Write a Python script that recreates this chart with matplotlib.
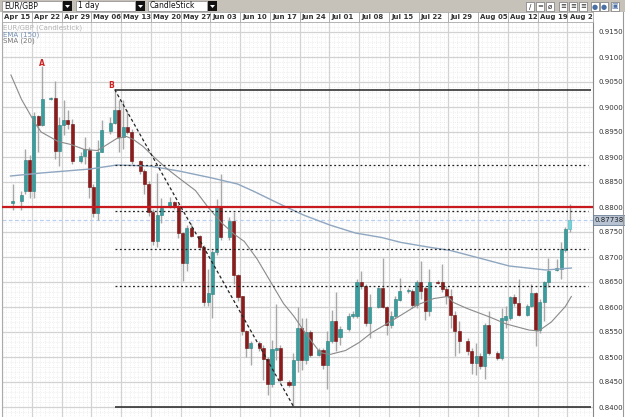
import matplotlib
matplotlib.use('Agg')
import matplotlib.pyplot as plt
from matplotlib.patches import Rectangle, Polygon
import numpy as np

# week labels (index -1 = Apr 15, 0 = Apr 22, ...)
week_labels = ['Apr 15', 'Apr 22', 'Apr 29', 'May 06', 'May 13', 'May 20', 'May 27',
               'Jun 03', 'Jun 10', 'Jun 17', 'Jun 24', 'Jul 01', 'Jul 08', 'Jul 15',
               'Jul 22', 'Jul 29', 'Aug 05', 'Aug 12', 'Aug 19', 'Aug 26']

# bar slots: 7 per week, 4th slot empty
slots = [7 * w + j + 0.5 for w in range(-1, 19) for j in (0, 1, 2, 4, 5, 6)]
days = slots[2:2 + 113]

opens = [0.8809, 0.8813, 0.8833, 0.8894,
         0.8833, 0.8982, 0.8964, 0.9017, 0.9019, 0.8913,
         0.8964, 0.8974, 0.8966, 0.8892, 0.8903, 0.8915,
         0.8841, 0.8788, 0.8911, 0.8952, 0.8968, 0.8995,
         0.8941, 0.8960, 0.8950, 0.8892, 0.8872, 0.8846,
         0.8790, 0.8733, 0.8784, 0.8801, 0.8809, 0.8801,
         0.8748, 0.8688, 0.8758, 0.8743, 0.8719, 0.8611,
         0.8627, 0.8711, 0.8803, 0.8741, 0.8772, 0.8664,
         0.8621, 0.8552, 0.8519, 0.8529, 0.8519, 0.8496,
         0.8447, 0.8515, 0.8519, 0.8451, 0.8445, 0.8494,
         0.8558, 0.8494, 0.8551, 0.8505, 0.8515, 0.8484,
         0.8533, 0.8572, 0.8541, 0.8556, 0.8582, 0.8582,
         0.8650, 0.8643, 0.8568, 0.8600, 0.8637, 0.8600,
         0.8564, 0.8582, 0.8615, 0.8633, 0.8633, 0.8605,
         0.8650, 0.8637, 0.8592, 0.8650, 0.8650, 0.8637,
         0.8623, 0.8584, 0.8552, 0.8533, 0.8513, 0.8488,
         0.8503, 0.8482, 0.8564, 0.8509, 0.8498, 0.8574,
         0.8578, 0.8621, 0.8609, 0.8584, 0.8603, 0.8629,
         0.8554, 0.8611, 0.8650, 0.8674, 0.8676, 0.8715,
         0.8756]
highs = [0.8846, 0.8833, 0.8917, 0.8905,
         0.8990, 0.8984, 0.9082, 0.9021, 0.9052, 0.8980,
         0.9015, 0.8995, 0.8976, 0.8911, 0.8941, 0.8921,
         0.8846, 0.8935, 0.8974, 0.8980, 0.9035, 0.9015,
         0.9015, 0.8995, 0.8956, 0.8895, 0.8876, 0.8852,
         0.8797, 0.8868, 0.8819, 0.8821, 0.8813, 0.8807,
         0.8750, 0.8764, 0.8768, 0.8745, 0.8725, 0.8676,
         0.8715, 0.8817, 0.8866, 0.8780, 0.8790, 0.8666,
         0.8623, 0.8554, 0.8533, 0.8533, 0.8525, 0.8500,
         0.8535, 0.8607, 0.8525, 0.8454, 0.8509, 0.8601,
         0.8578, 0.8578, 0.8554, 0.8519, 0.8519, 0.8552,
         0.8594, 0.8631, 0.8562, 0.8588, 0.8592, 0.8656,
         0.8672, 0.8647, 0.8627, 0.8641, 0.8699, 0.8603,
         0.8592, 0.8623, 0.8658, 0.8639, 0.8637, 0.8654,
         0.8692, 0.8643, 0.8676, 0.8654, 0.8686, 0.8643,
         0.8637, 0.8592, 0.8572, 0.8539, 0.8519, 0.8529,
         0.8509, 0.8568, 0.8592, 0.8513, 0.8598, 0.8603,
         0.8623, 0.8627, 0.8656, 0.8607, 0.8647, 0.8631,
         0.8617, 0.8652, 0.8699, 0.8696, 0.8731, 0.8760,
         0.8807]
lows = [0.8794, 0.8794, 0.8827, 0.8819,
        0.8819, 0.8911, 0.8962, 0.9015, 0.8897, 0.8882,
        0.8944, 0.8956, 0.8886, 0.8888, 0.8886, 0.8819,
        0.8780, 0.8774, 0.8911, 0.8946, 0.8966, 0.8911,
        0.8917, 0.8946, 0.8886, 0.8866, 0.8827, 0.8782,
        0.8725, 0.8721, 0.8768, 0.8799, 0.8797, 0.8739,
        0.8652, 0.8672, 0.8741, 0.8715, 0.8603, 0.8603,
        0.8578, 0.8705, 0.8735, 0.8735, 0.8647, 0.8613,
        0.8545, 0.8500, 0.8484, 0.8513, 0.8454, 0.8425,
        0.8441, 0.8494, 0.8451, 0.8441, 0.8402, 0.8470,
        0.8474, 0.8486, 0.8500, 0.8503, 0.8476, 0.8437,
        0.8529, 0.8513, 0.8525, 0.8552, 0.8578, 0.8578,
        0.8637, 0.8562, 0.8539, 0.8598, 0.8598, 0.8545,
        0.8558, 0.8578, 0.8613, 0.8629, 0.8598, 0.8598,
        0.8617, 0.8574, 0.8582, 0.8647, 0.8631, 0.8607,
        0.8558, 0.8503, 0.8509, 0.8505, 0.8466, 0.8464,
        0.8476, 0.8456, 0.8505, 0.8494, 0.8494, 0.8558,
        0.8574, 0.8603, 0.8582, 0.8582, 0.8601, 0.8523,
        0.8549, 0.8572, 0.8641, 0.8672, 0.8656, 0.8711,
        0.8750]
closes = [0.8813, 0.8825, 0.8894, 0.8833,
          0.8982, 0.8964, 0.9017, 0.9019, 0.8913, 0.8964,
          0.8974, 0.8966, 0.8892, 0.8903, 0.8917, 0.8841,
          0.8788, 0.8911, 0.8954, 0.8968, 0.8995, 0.8941,
          0.8960, 0.8950, 0.8892, 0.8872, 0.8846, 0.8790,
          0.8733, 0.8784, 0.8799, 0.8809, 0.8801, 0.8748,
          0.8688, 0.8758, 0.8743, 0.8721, 0.8611, 0.8627,
          0.8711, 0.8803, 0.8741, 0.8772, 0.8664, 0.8621,
          0.8552, 0.8519, 0.8529, 0.8519, 0.8496, 0.8447,
          0.8515, 0.8519, 0.8454, 0.8445, 0.8494, 0.8558,
          0.8494, 0.8551, 0.8505, 0.8515, 0.8484, 0.8533,
          0.8572, 0.8533, 0.8556, 0.8582, 0.8586, 0.8649,
          0.8643, 0.8568, 0.8601, 0.8637, 0.8600, 0.8564,
          0.8582, 0.8615, 0.8633, 0.8635, 0.8605, 0.8650,
          0.8633, 0.8592, 0.8650, 0.8649, 0.8637, 0.8623,
          0.8584, 0.8552, 0.8533, 0.8513, 0.8488, 0.8503,
          0.8482, 0.8564, 0.8509, 0.8498, 0.8578, 0.8582,
          0.8621, 0.8609, 0.8584, 0.8603, 0.8629, 0.8554,
          0.8611, 0.8650, 0.8672, 0.8678, 0.8715, 0.8756,
          0.87738]

# indicator lines
ema_x = [-5.0, 2.2, 13.8, 20.0, 27.6, 34.6, 42.4, 48.4, 52.3, 57.6, 63.9, 70.1,
         76.1, 82.3, 86.9, 93.9, 98.5, 106.1, 112.3, 120.9, 126.9]
ema_y = [0.8862, 0.8868, 0.8876, 0.8884, 0.8882, 0.8872, 0.8858, 0.8846, 0.8831,
         0.8809, 0.8784, 0.8764, 0.8748, 0.8739, 0.8729, 0.8719, 0.8713, 0.8696,
         0.8682, 0.8674, 0.8678]
sma_x = [-4.9, -2.4, 0.9, 2.2, 6.2, 9.2, 12.4, 15.4, 17.0, 20.0, 22.3, 23.9, 26.2,
         28.6, 31.6, 34.6, 38.5, 41.5, 44.7, 47.7, 50.0, 53.0, 56.2, 59.2, 61.6,
         64.6, 67.8, 70.1, 73.8, 77.0, 80.0, 83.0, 86.9, 90.9, 94.6, 97.8, 99.2,
         102.4, 107.7, 111.6, 116.9, 119.2, 122.2, 125.5, 126.9]
sma_y = [0.9064, 0.9015, 0.8966, 0.8950, 0.8931, 0.8925, 0.8915, 0.8913, 0.8921,
         0.8937, 0.8941, 0.8935, 0.8921, 0.8901, 0.8878, 0.8858, 0.8833, 0.8799,
         0.8768, 0.8745, 0.8731, 0.8696, 0.8650, 0.8607, 0.8582, 0.8545, 0.8509,
         0.8505, 0.8513, 0.8529, 0.8549, 0.8564, 0.8584, 0.8605, 0.8617, 0.8621,
         0.8609, 0.8597, 0.8580, 0.8566, 0.8554, 0.8552, 0.8570, 0.8601, 0.8621]

# drawn levels
level_b = 0.9035
level_low = 0.8400
level_red = 0.8800
dotted_levels = [0.8885, 0.8792, 0.8717, 0.8642]
last_price = 0.87738
trend_x = [19.5, 61.5]
trend_y = [0.9035, 0.8402]

W, H = 625, 417
fig = plt.figure(figsize=(W / 100, H / 100), dpi=100)
fig.patch.set_facecolor('white')

ax = fig.add_axes([2 / W, 0, 591 / W, 395 / H])
ax.set_xlim(-4.92, 131.48)
ax.set_ylim(0.8388, 0.9162)
ax.set_facecolor('white')

ax.set_xticks(np.arange(-7, 133, 7))
ax.set_xticks(np.arange(-7, 133, 1), minor=True)
ax.set_yticks(np.arange(0.840, 0.9151, 0.005))
ax.set_yticks(np.arange(0.838, 0.917, 0.001), minor=True)
ax.grid(which='minor', color='#e4e4e4', lw=0.5, ls=':')
ax.grid(which='major', color='#d2d2d2', lw=0.9)
ax.set_axisbelow(True)
ax.tick_params(axis='x', which='both', length=0, labelbottom=False)
ax.yaxis.tick_right()
ax.tick_params(axis='y', which='both', length=0, pad=4, labelsize=5, labelcolor='#333333')
ax.set_yticklabels(['%.4f' % v for v in np.arange(0.840, 0.9151, 0.005)])
for s in ['top', 'bottom']:
    ax.spines[s].set_visible(False)
ax.spines['left'].set_color('#aaaaaa')
ax.spines['right'].set_color('#888888')

# candles
d = np.array(days)
o = np.array(opens); h = np.array(highs); l = np.array(lows); c = np.array(closes)
up = c >= o
face = np.where(up, '#3a9e9e', '#8e1b1b').astype(object)
edge = np.where(up, '#2c7f7f', '#6e1010').astype(object)
face[-1] = '#72d4dc'; edge[-1] = '#52b4bc'
ax.vlines(d, l, h, color='#a8a8a8', lw=1, zorder=3)
ax.bar(d, np.maximum(np.abs(c - o), 0.00012), bottom=np.minimum(o, c), width=0.72,
       color=list(face), edgecolor=list(edge), linewidth=0.4, zorder=4)

ax.plot(ema_x, ema_y, color='#8ea6c0', lw=1, zorder=5)
ax.plot(sma_x, sma_y, color='#8a8a8a', lw=0.8, zorder=5)

# annotations drawn on the chart
ax.axhline(level_red, color='#c8191e', lw=1.6, zorder=6)
ax.axhline(last_price, color='#b9cff0', lw=0.9, ls=(0, (3, 2)), zorder=2)
ax.hlines([level_b, level_low], 19.5, 131.5, color='#222222', lw=1.1, zorder=6)
ax.hlines(dotted_levels, 19.5, 130.8, color='#222222', lw=0.9, ls=(0, (1.5, 2)), zorder=6)
ax.plot(trend_x, trend_y, color='#222222', lw=0.9, ls=(0, (2.5, 2)), zorder=6)
ax.text(2.5, 0.9088, 'A', color='#cc2222', fontsize=5.5, fontweight='bold', ha='center', va='center')
ax.text(18.6, 0.9044, 'B', color='#cc2222', fontsize=5.5, fontweight='bold', ha='center', va='center')

ax.text(0.002, 0.993, 'EUR/GBP (Candlestick)', transform=ax.transAxes, fontsize=5, color='#b4b4b4', va='top')
ax.text(0.002, 0.977, 'EMA (150)', transform=ax.transAxes, fontsize=5, color='#7390b5', va='top')
ax.text(0.002, 0.961, 'SMA (20)', transform=ax.transAxes, fontsize=5, color='#777777', va='top')

ax.text(1.003, last_price, '%.5f' % last_price, transform=ax.get_yaxis_transform(),
        fontsize=5, color='#222222', va='center', ha='left',
        bbox=dict(boxstyle='square,pad=0.25', fc='#b7c3d3', ec='#6d7f96', lw=0.6))

# date row
axd = fig.add_axes([2 / W, 395 / H, 591 / W, 10 / H])
axd.set_xlim(ax.get_xlim())
axd.set_ylim(0, 1)
axd.set_xticks([]); axd.set_yticks([])
for s in axd.spines.values():
    s.set_color('#aaaaaa'); s.set_lw(0.6)
for k, lab in enumerate(week_labels):
    x = 7 * (k - 1)
    axd.axvline(x, color='#b0b0b0', lw=0.7)
    axd.text(x + 0.5, 0.45, lab, fontsize=5, fontweight='bold', color='#333333',
             va='center', ha='left', clip_on=True)

# header bar
fig.add_artist(Rectangle((0, 1 - 12 / H), 1, 12 / H, transform=fig.transFigure,
                         fc='#c6c2ba', ec='none'))
for (x0, x1, txt) in [(2, 62, 'EUR/GBP'), (76, 135, '1 day'), (148, 207, 'CandleStick')]:
    fig.add_artist(Rectangle((x0 / W, 1 - 11 / H), (x1 - x0) / W, 10 / H, transform=fig.transFigure,
                             fc='white', ec='#888888', lw=0.5))
    fig.add_artist(Rectangle(((x1 + 1) / W, 1 - 11 / H), 9 / W, 10 / H, transform=fig.transFigure,
                             fc='#111111', ec='none'))
    fig.add_artist(Polygon([((x1 + 3) / W, 1 - 5 / H), ((x1 + 8) / W, 1 - 5 / H), ((x1 + 5.5) / W, 1 - 8 / H)],
                           closed=True, transform=fig.transFigure, fc='white', ec='none'))
    fig.text((x0 + 2) / W, 1 - 6 / H, txt, fontsize=5.5, color='#111111', va='center')
for i, (x0, g) in enumerate([(526, '/'), (536, '='), (546, 'ø'), (559, '≡'), (569, '≡'), (579, '≡'),
                             (591, '●'), (600, '●'), (611, '▣')]):
    fig.add_artist(Rectangle((x0 / W, 1 - 11 / H), 8 / W, 9 / H, transform=fig.transFigure,
                             fc='white', ec='#777777', lw=0.5))
    fig.text((x0 + 4) / W, 1 - 6.5 / H, g, fontsize=5, color='#4a6fa5' if g in '●▣' else '#222222',
             ha='center', va='center')

# right border
fig.add_artist(plt.Line2D([622.5 / W, 622.5 / W], [0, 1 - 12 / H], transform=fig.transFigure,
                          color='#999999', lw=0.8))

fig.savefig('out.png', dpi=100)
